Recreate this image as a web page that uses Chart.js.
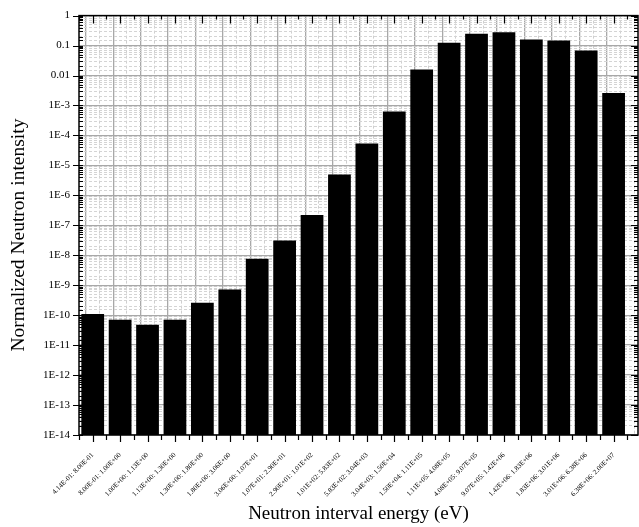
<!DOCTYPE html>
<html>
<head>
<meta charset="utf-8">
<script src="https://cdn.jsdelivr.net/npm/chart.js@4"></script>
<style>
html,body{margin:0;padding:0;background:#fff;}
#wrap{width:639px;height:527px;}
</style>
</head>
<body>
<div id="wrap"><canvas id="c" width="639" height="527"></canvas></div>
<script>
const categories = [
  "4.14E-01: 8.00E-01","8.00E-01: 1.00E+00","1.00E+00: 1.13E+00","1.13E+00: 1.30E+00",
  "1.30E+00: 1.80E+00","1.80E+00: 3.06E+00","3.06E+00: 1.07E+01","1.07E+01: 2.90E+01",
  "2.90E+01: 1.01E+02","1.01E+02: 5.83E+02","5.83E+02: 3.04E+03","3.04E+03: 1.50E+04",
  "1.50E+04: 1.11E+05","1.11E+05: 4.08E+05","4.08E+05: 9.07E+05","9.07E+05: 1.42E+06",
  "1.42E+06: 1.83E+06","1.83E+06: 3.01E+06","3.01E+06: 6.38E+06","6.38E+06: 2.00E+07"
];
const intensity = [
  1.1e-10, 7.0e-11, 4.8e-11, 7.0e-11, 2.6e-10, 7.2e-10, 7.6e-9, 3.1e-8,
  2.2e-7, 5.0e-6, 5.4e-5, 6.3e-4, 1.6e-2, 1.23e-1, 2.5e-1, 2.8e-1,
  1.6e-1, 1.47e-1, 6.8e-2, 2.6e-3
];
const yTickLabels = {"0":"1","-1":"0.1","-2":"0.01","-3":"1E-3","-4":"1E-4","-5":"1E-5","-6":"1E-6","-7":"1E-7","-8":"1E-8","-9":"1E-9","-10":"1E-10","-11":"1E-11","-12":"1E-12","-13":"1E-13","-14":"1E-14"};

const FONT = "'Liberation Serif','Times New Roman',serif";
const isDecade = v => { const l = Math.log10(v); return Math.abs(l - Math.round(l)) < 1e-6; };
const isInt = v => Math.abs(v - Math.round(v)) < 1e-6;

const frameTicks = {
  id: 'frameTicks',
  afterDraw(chart) {
    const {ctx, chartArea: a, scales: {x, y}} = chart;
    ctx.save();
    ctx.strokeStyle = '#000';
    ctx.lineWidth = 1.5;
    ctx.strokeRect(a.left, a.top, a.right - a.left, a.bottom - a.top);
    ctx.lineWidth = 1.2;
    ctx.beginPath();
    x.ticks.forEach(t => {
      const px = Math.round(x.getPixelForValue(t.value)) + 0.5;
      const major = isInt(t.value);
      ctx.moveTo(px, a.bottom); ctx.lineTo(px, a.bottom + (major ? 7 : 5));
      ctx.moveTo(px, a.top); ctx.lineTo(px, a.top + (major ? 8 : 4));
    });
    y.ticks.forEach(t => {
      const py = Math.round(y.getPixelForValue(t.value)) + 0.5;
      if (py < a.top - 1 || py > a.bottom + 1) return;
      const major = isDecade(t.value);
      if (major) {
        ctx.moveTo(a.left - 6, py); ctx.lineTo(a.left + 4, py);
        ctx.moveTo(a.right, py); ctx.lineTo(a.right - 7, py);
      } else {
        ctx.moveTo(a.left, py); ctx.lineTo(a.left + 4, py);
        ctx.moveTo(a.right, py); ctx.lineTo(a.right - 4, py);
      }
    });
    ctx.stroke();
    ctx.restore();
  }
};

new Chart(document.getElementById('c'), {
  type: 'bar',
  data: {
    datasets: [{
      data: intensity.map((v, i) => ({x: i + 1, y: v})),
      backgroundColor: '#000',
      borderColor: '#000',
      borderWidth: 0,
      barPercentage: 1.66,
      categoryPercentage: 1.0
    }]
  },
  options: {
    responsive: false,
    animation: false,
    devicePixelRatio: 1,
    layout: {padding: {top: 14, right: 1, left: 0, bottom: 0}},
    plugins: {legend: {display: false}, tooltip: {enabled: false}},
    scales: {
      x: {
        type: 'linear',
        min: 0.5,
        max: 20.89,
        offset: false,
        afterFit(s) { s.height = 92; s.paddingLeft = 0; s.paddingRight = 0; },
        ticks: {
          stepSize: 0.5,
          includeBounds: false,
          autoSkip: false,
          maxRotation: 45,
          minRotation: 45,
          padding: 16,
          color: '#000',
          font: {family: FONT, size: 7},
          callback: v => isInt(v) && v >= 1 && v <= categories.length ? categories[Math.round(v) - 1] : ''
        },
        grid: {
          drawTicks: false,
          color: c => (c.tick && isInt(c.tick.value)) ? '#a8a8a8' : '#cfcfcf',
          lineWidth: c => (c.tick && isInt(c.tick.value)) ? 1.3 : 1
        },
        border: {
          display: false,
          dash: c => (c.tick && isInt(c.tick.value)) ? [] : [3, 2]
        },
        title: {
          display: true,
          text: 'Neutron interval energy (eV)',
          color: '#000',
          font: {family: FONT, size: 19},
          padding: {top: 0, bottom: 2}
        }
      },
      y: {
        type: 'logarithmic',
        min: 1e-14,
        max: 1,
        afterFit(s) { s.width = 79; },
        ticks: {
          autoSkip: false,
          padding: 9,
          color: '#000',
          font: {family: FONT, size: 11},
          callback: v => isDecade(v) ? (yTickLabels[String(Math.round(Math.log10(v)))] || '') : ''
        },
        grid: {
          drawTicks: false,
          color: c => (c.tick && isDecade(c.tick.value)) ? '#a8a8a8' : '#d4d4d4',
          lineWidth: c => (c.tick && isDecade(c.tick.value)) ? 1.3 : 1
        },
        border: {
          display: false,
          dash: c => (c.tick && isDecade(c.tick.value)) ? [] : [3, 2]
        },
        title: {
          display: true,
          text: 'Normalized Neutron intensity    ',
          color: '#000',
          font: {family: FONT, size: 19.5},
          padding: {top: 7, bottom: 0}
        }
      }
    }
  },
  plugins: [frameTicks]
});
</script>
</body>
</html>
